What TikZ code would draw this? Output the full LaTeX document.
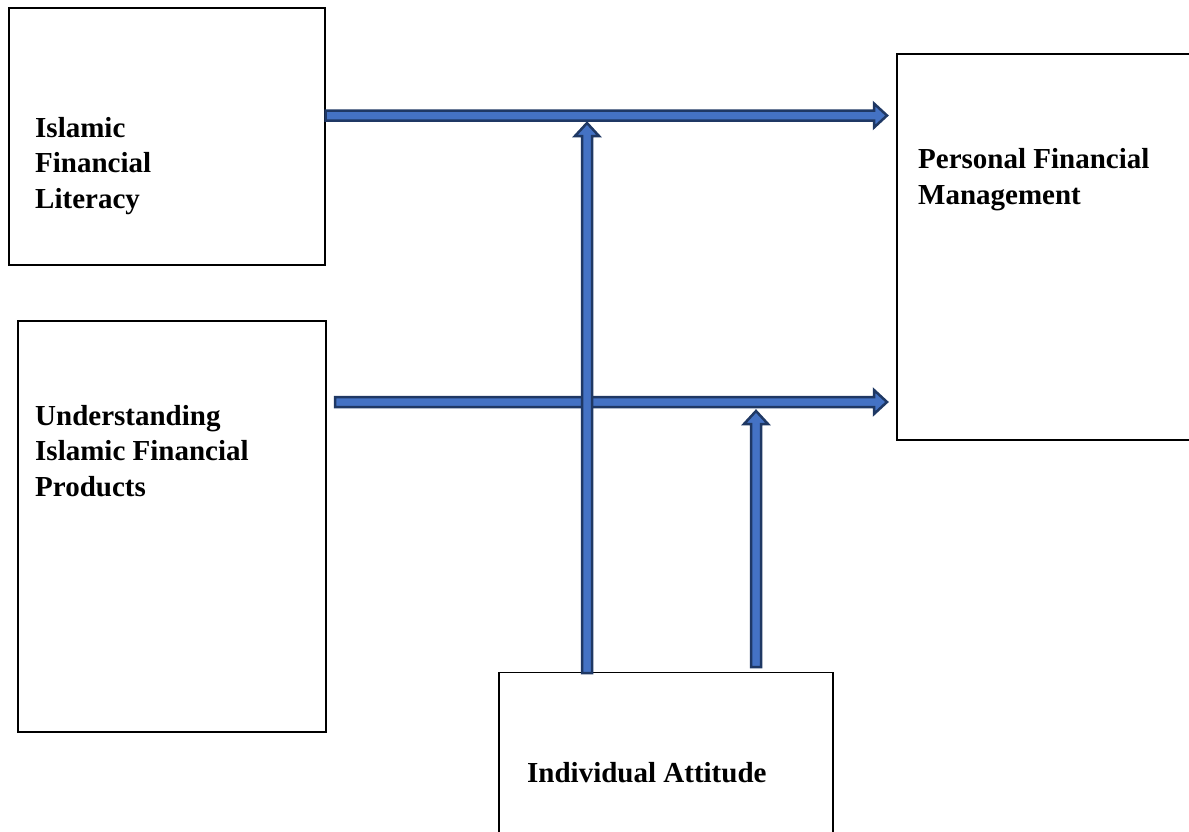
\documentclass[tikz,border=0pt]{standalone}
\usepackage{fontspec}
\setmainfont{Liberation Serif}
\usetikzlibrary{calc}
\definecolor{arrowfill}{HTML}{4472C4}
\definecolor{arrowline}{HTML}{1F3864}
\tikzset{
  box/.style={draw=black, line width=1.3pt, inner sep=0pt},
  lbl/.style={anchor=west, align=left, inner sep=0pt,
    font=\fontsize{29}{35.5}\selectfont\bfseries},
  blockarrow/.style={fill=arrowfill, draw=arrowline, line width=2.5pt, line join=miter}
}
% block arrow pointing right, tip at #2
\newcommand{\harrow}[2]{%
  \draw[blockarrow] let \p1=(#1), \p2=(#2) in
    (\x1,\y1+5pt) -- (\x2-13pt,\y1+5pt) -- (\x2-13pt,\y1+12pt) -- (\x2,\y1)
    -- (\x2-13pt,\y1-12pt) -- (\x2-13pt,\y1-5pt) -- (\x1,\y1-5pt) -- cycle;}
% block arrow pointing up, tip at #2
\newcommand{\varrow}[2]{%
  \draw[blockarrow] let \p1=(#1), \p2=(#2) in
    (\x1-5pt,\y1) -- (\x1-5pt,\y2-13pt) -- (\x1-12pt,\y2-13pt) -- (\x1,\y2)
    -- (\x1+12pt,\y2-13pt) -- (\x1+5pt,\y2-13pt) -- (\x1+5pt,\y1) -- cycle;}
\begin{document}
\begin{tikzpicture}[x=1pt,y=-1pt]
    \useasboundingbox (0,0) rectangle (1189,831);
    \clip (0,0) rectangle (1189,831);
    % boxes
    \node[box, minimum width=316, minimum height=257] (lit) at (167,136.5) {};
    \node[box, minimum width=308, minimum height=411] (prod) at (172,526.5) {};
    \node[box, minimum width=310, minimum height=386] (pfm) at (1052,247) {};
    \node[box, minimum width=334, minimum height=180] (att) at (666,762.5) {};
    \node[lbl] (littext) at (35,166) {Islamic\\Financial\\Literacy};
    \node[lbl] (prodtext) at (35,451) {Understanding\\Islamic Financial\\Products};
    \node[lbl] (pfmtext) at (918,179.5) {Personal Financial\\Management};
    \node[lbl] (atttext) at (527,773) {Individual Attitude};
    % arrow ends
    \coordinate (a1) at (lit.east |- 0,115.5);
    \coordinate (b1) at (887,115.5);
    \coordinate (a2) at (335,402);
    \coordinate (b2) at (887,402);
    \coordinate (a3) at (587,673);
    \coordinate (b3) at (587,123);
    \coordinate (a4) at (756,667);
    \coordinate (b4) at (756,411);
    \harrow{a1}{b1}
    \harrow{a2}{b2}
    \varrow{a3}{b3}
    \varrow{a4}{b4}
\end{tikzpicture}
\end{document}
